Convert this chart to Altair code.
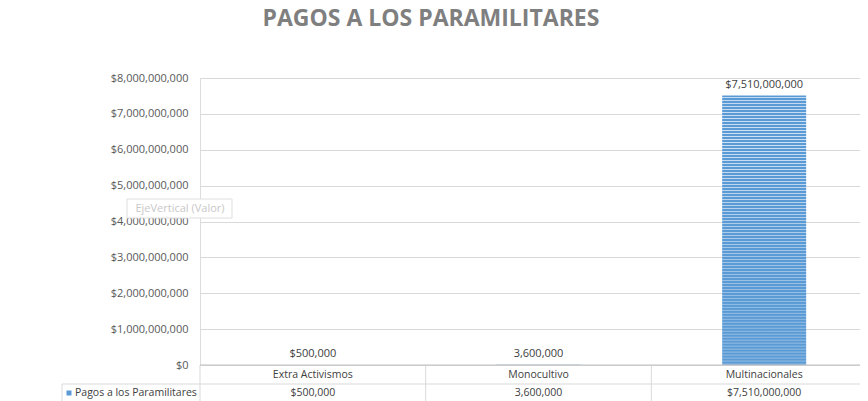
import altair as alt
import pandas as pd

# ---- data ----
categories = ["Extra Activismos", "Monocultivo", "Multinacionales"]
values = [500000, 3600000, 7510000000]
value_labels = ["$500,000", "3,600,000", "$7,510,000,000"]
series_name = "Pagos a los Paramilitares"
y_ticks = [0, 1000000000, 2000000000, 3000000000, 4000000000,
           5000000000, 6000000000, 7000000000, 8000000000]
title_text = "PAGOS A LOS PARAMILITARES"
tooltip_text = "EjeVertical (Valor)"

df = pd.DataFrame({"cat": categories, "val": values, "lbl": value_labels})
one = pd.DataFrame({"series": [series_name], "tip": [tooltip_text]})

W, H = 660, 287
XR = 677
BLUE = "#5b9bd5"
LIGHT = "#cfe1f4"
FONT = "Open Sans"

# striped fill (horizontal lines) as a gradient
N = 90
stops = []
for k in range(N):
    stops += [alt.GradientStop(offset=k / N, color=BLUE),
              alt.GradientStop(offset=(k + 0.45) / N, color=BLUE),
              alt.GradientStop(offset=(k + 0.67) / N, color=LIGHT),
              alt.GradientStop(offset=(k + 0.89) / N, color=BLUE)]
stops.append(alt.GradientStop(offset=1, color=BLUE))
stripe = alt.Gradient(gradient="linear", stops=stops, x1=0, x2=0, y1=0, y2=1)

xs = alt.Scale(domain=categories, paddingInner=0, paddingOuter=0, range=[0, XR])
ys = alt.Scale(domain=[0, 8000000000], nice=False)

y_axis = alt.Axis(title=None, values=y_ticks, tickCount=20, format="$,.0f", ticks=False,
                  domain=False, gridColor="#d9d9d9", labelPadding=12,
                  labelOverlap=False, labelBound=False,
                  labelFont=FONT, labelFontSize=11, labelColor="#595959")
x_axis = alt.Axis(title=None, labels=False, ticks=False, domain=False, grid=False)

X = alt.X("cat:N", scale=xs, sort=categories, axis=x_axis)
Y = alt.Y("val:Q", scale=ys, axis=y_axis)

base = alt.Chart(df)

bars = base.mark_bar(size=84, color=stripe).encode(x=X, y=Y)

val_text = base.mark_text(dy=-6, baseline="bottom", font=FONT, fontSize=11,
                          color="#404040").encode(x=X, y=Y, text="lbl:N")

row1 = base.mark_text(baseline="middle", font=FONT, fontSize=10.5, color="#404040").encode(
    x=X, y=alt.value(H + 10), text="cat:N")

row2 = base.mark_text(baseline="middle", font=FONT, fontSize=10.5, color="#404040").encode(
    x=X, y=alt.value(H + 28), text="lbl:N")

seps = base.mark_rule(color="#d9d9d9", strokeWidth=1).encode(
    x=alt.X("cat:N", scale=xs, sort=categories, bandPosition=0, axis=x_axis),
    y=alt.value(H), y2=alt.value(H + 40))

o = alt.Chart(one)
domain_line = o.mark_rule(color="#bfbfbf", strokeWidth=1).encode(
    x=alt.value(0), x2=alt.value(W), y=alt.value(H))
hline = o.mark_rule(color="#d9d9d9", strokeWidth=1).encode(
    x=alt.value(-138), x2=alt.value(W), y=alt.value(H + 19))
lborder = o.mark_rule(color="#d9d9d9", strokeWidth=1).encode(
    x=alt.value(-138), y=alt.value(H + 19), y2=alt.value(H + 40))
lsq = o.mark_square(color=BLUE, size=25, opacity=1).encode(
    x=alt.value(-131), y=alt.value(H + 28))
ltxt = o.mark_text(align="left", baseline="middle", font=FONT, fontSize=10.5,
                   color="#404040").encode(x=alt.value(-125), y=alt.value(H + 28), text="series:N")

tipbox = o.mark_rect(fill="white", stroke="#dedede", strokeWidth=1).encode(
    x=alt.value(-73), x2=alt.value(32), y=alt.value(121), y2=alt.value(140))
tiptxt = o.mark_text(align="center", baseline="middle", font=FONT, fontSize=11,
                     color="#c8c8c8").encode(x=alt.value(-20), y=alt.value(131), text="tip:N")

chart = alt.layer(bars, val_text, row1, row2, seps, domain_line, hline, lborder, lsq, ltxt,
                  tipbox, tiptxt).properties(
    width=W, height=H,
    title=alt.TitleParams(text=title_text, font=FONT, fontSize=23, fontWeight="bold",
                          color="#7f7f7f", anchor="start", dx=201, offset=41),
    autosize=alt.AutoSizeParams(type="none"),
    padding={"left": 192, "top": 70, "right": 0, "bottom": 36},
).configure_view(stroke=None).configure(background="white")

chart.save("out.html", embed_options={"renderer": "svg", "actions": False})
